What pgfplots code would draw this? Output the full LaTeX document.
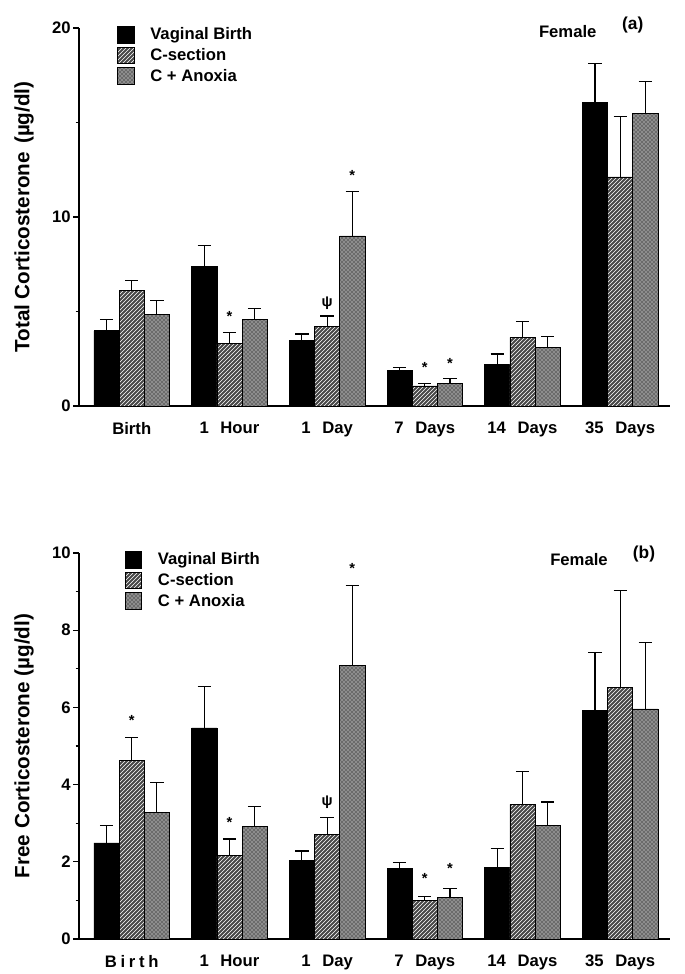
\documentclass[border=0pt]{standalone}
\usepackage{fontspec}
\setmainfont{Liberation Sans}
\usepackage{pgfplots}
\pgfplotsset{compat=1.18}
\usetikzlibrary{patterns}

\tikzset{
  ann/.style={font=\bfseries\fontsize{11}{12}\selectfont, inner sep=0pt},
}
\pgfplotsset{
  panel/.style={
    scale only axis, width=443.25pt, clip=false,
    axis x line*=bottom, axis y line*=left,
    xmin=-0.54, xmax=5.51, ymin=0,
    xtick={0,...,5}, x tick style={draw=none},
    ybar, bar width=0.258,
    tick align=outside, major tick length=4.5pt, minor tick length=2.5pt,
    y tick style={black, line width=0.8pt},
    axis line style={line width=0.9pt},
    /pgf/number format/assume math mode=true,
    yticklabel style={font=\bfseries\fontsize{12.5}{14}\selectfont, inner sep=1.5pt},
    xticklabel style={font=\bfseries\fontsize{12.5}{14}\selectfont, yshift=-4pt},
    ylabel style={font=\bfseries\fontsize{15.5}{17}\selectfont, at={(rel axis cs:-0.093,0.5)}, anchor=center},
    legend style={draw=none, fill=none, anchor=north west, inner sep=0pt,
      font=\bfseries\fontsize{12.5}{14}\selectfont, row sep=1pt,
      /tikz/every odd column/.append style={column sep=10pt}},
    legend cell align=left,
    legend image code/.code={\draw[#1, line width=0.4pt] (0pt,-6pt) rectangle (12.5pt,6.5pt);},
  },
  errs/.style={error bars/.cd, y dir=plus, y explicit,
    error mark=-,
    error mark options={rotate=90, black, line width=0.8pt, mark size=5pt},
    error bar style={black, line width=0.8pt}},
  vb/.style={fill=black, draw=black, line width=0.5pt, bar shift=-0.258, errs},
  cs/.style={fill=black!72, draw=black, line width=0.5pt, bar shift=0,
    postaction={pattern=north east lines, pattern color=white}, errs},
  ca/.style={fill=black!58, draw=black, line width=0.5pt, bar shift=0.258,
    postaction={pattern=crosshatch dots, pattern color=white}, errs},
}

\begin{document}
\begin{tikzpicture}
\path[use as bounding box] (0,0) rectangle (513.75pt,730.5pt);

% ---------- panel (a)
\begin{axis}[panel, at={(59.25pt,426pt)}, anchor=south west,
  height=283.5pt, ymax=20,
  ytick={0,10,20}, minor ytick={5,15},
  xticklabels={Birth, 1\hspace{0.7em}Hour, 1\hspace{0.7em}Day, 7\hspace{0.7em}Days, 14\hspace{0.7em}Days, 35\hspace{0.7em}Days},
  ylabel={Total Corticosterone\hspace{0.4em}(µg/dl)},
  legend style={at={(rel axis cs:0.064,1.008)}},
]
\addplot[vb] coordinates {(0,3.98) +- (0,0.60) (1,7.40) +- (0,1.08) (2,3.49) +- (0,0.32) (3,1.90) +- (0,0.14) (4,2.22) +- (0,0.53) (5,16.04) +- (0,2.07)};
\addplot[cs] coordinates {(0,6.13) +- (0,0.53) (1,3.31) +- (0,0.57) (2,4.19) +- (0,0.57) (3,1.06) +- (0,0.14) (4,3.63) +- (0,0.86) (5,12.12) +- (0,3.21)};
\addplot[ca] coordinates {(0,4.86) +- (0,0.74) (1,4.60) +- (0,0.55) (2,9.00) +- (0,2.37) (3,1.20) +- (0,0.23) (4,3.10) +- (0,0.60) (5,15.47) +- (0,1.71)};
\legend{Vaginal Birth, C-section, C + Anoxia}
\node[ann] at (axis cs:1,4.75) {*};
\node[ann] at (axis cs:2,5.46) {ψ};
\node[ann] at (axis cs:2.258,12.2) {*};
\node[ann] at (axis cs:3,2.05) {*};
\node[ann] at (axis cs:3.258,2.25) {*};
\node[font=\bfseries\fontsize{12.5}{14}\selectfont] at (rel axis cs:0.827,0.99) {Female};
\node[font=\bfseries\fontsize{13}{14}\selectfont] at (rel axis cs:0.937,1.008) {(a)};
\end{axis}

% ---------- panel (b)
\begin{axis}[panel, at={(59.25pt,26.25pt)}, anchor=south west,
  height=289.5pt, ymax=10,
  ytick={0,2,...,10}, minor ytick={1,3,5,7,9},
  xticklabels={{\addfontfeature{LetterSpace=22}Birth}, 1\hspace{0.7em}Hour, 1\hspace{0.7em}Day, 7\hspace{0.7em}Days, 14\hspace{0.7em}Days, 35\hspace{0.7em}Days},
  ylabel={Free Corticosterone (µg/dl)},
  legend style={at={(rel axis cs:0.077,1.008)}},
]
\addplot[vb] coordinates {(0,2.49) +- (0,0.45) (1,5.47) +- (0,1.06) (2,2.03) +- (0,0.25) (3,1.82) +- (0,0.15) (4,1.86) +- (0,0.49) (5,5.93) +- (0,1.49)};
\addplot[cs] coordinates {(0,4.63) +- (0,0.60) (1,2.16) +- (0,0.43) (2,2.72) +- (0,0.42) (3,0.99) +- (0,0.12) (4,3.49) +- (0,0.86) (5,6.51) +- (0,2.52)};
\addplot[ca] coordinates {(0,3.29) +- (0,0.77) (1,2.91) +- (0,0.52) (2,7.08) +- (0,2.09) (3,1.07) +- (0,0.24) (4,2.95) +- (0,0.60) (5,5.96) +- (0,1.72)};
\legend{Vaginal Birth, C-section, C + Anoxia}
\node[ann] at (axis cs:0,5.66) {*};
\node[ann] at (axis cs:1,3.03) {*};
\node[ann] at (axis cs:2,3.55) {ψ};
\node[ann] at (axis cs:2.258,9.6) {*};
\node[ann] at (axis cs:3,1.58) {*};
\node[ann] at (axis cs:3.258,1.82) {*};
\node[font=\bfseries\fontsize{12.5}{14}\selectfont] at (rel axis cs:0.846,0.982) {Female};
\node[font=\bfseries\fontsize{13}{14}\selectfont] at (rel axis cs:0.956,0.997) {(b)};
\end{axis}
\end{tikzpicture}
\end{document}
